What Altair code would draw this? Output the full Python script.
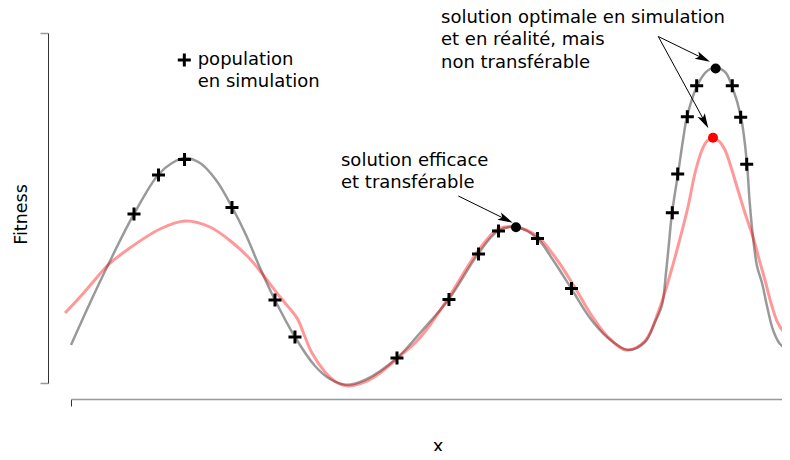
import math
import altair as alt
import pandas as pd

# ---------------- data ----------------
# Fitness landscape in simulation (grey curve)
sim_x = [0, 2.64, 5.15, 8.76, 12.10, 14.05, 15.86, 17.94, 20.17, 22.39, 24.34, 26.29,
         28.37, 31.15, 33.94, 36.02, 38.25, 40.89, 45.34, 48.54, 52.57, 56.61, 59.39,
         61.89, 64.81, 67.04, 69.54, 72.18, 74.55, 77.47, 79.83, 81.22, 82.20, 82.75,
         83.17, 83.59, 84.42, 85.12, 85.67, 87.07, 88.18, 88.87, 89.71, 90.40, 91.10,
         91.93, 93.18, 94.02, 94.37, 94.85, 95.41, 96.11, 96.80, 97.64, 98.61, 100]
sim_y = [10.86, 22.86, 33.71, 48.29, 59.43, 62.86, 64.29, 62.86, 58.0, 50.29, 42.29, 32.86,
         23.71, 13.14, 4.86, 1.14, -0.5, 0.86, 7.14, 14.29, 24.0, 36.86, 43.43,
         44.57, 41.43, 35.14, 27.14, 18.57, 13.14, 9.43, 11.71, 17.43, 22.29, 31.43,
         40.0, 48.57, 59.71, 69.43, 76.0, 84.86, 88.57, 89.71, 90.29, 89.71, 88.57,
         84.86, 76.0, 62.57, 52.29, 41.71, 33.43, 28.57, 22.0, 15.14, 11.14, 9.14]

# Fitness landscape in reality (pink curve)
real_x = [-0.83, 1.25, 3.06, 5.15, 7.79, 12.38, 15.86, 19.33, 22.53, 24.90, 26.29,
          29.07, 31.43, 32.55, 33.52, 35.33, 36.86, 38.53, 40.89, 42.98, 45.76, 48.12,
          49.93, 52.57, 56.61, 59.39, 61.89, 64.81, 67.32, 69.96, 72.18, 74.55, 77.19,
          79.83, 81.92, 83.31, 84.28, 85.81, 86.79, 87.76, 88.46, 89.29, 90.12, 90.96,
          91.79, 92.63, 93.74, 94.85, 95.69, 96.52, 97.36, 98.19, 99.03, 100]
real_y = [20.0, 24.57, 28.86, 33.71, 38.0, 44.0, 46.29, 44.57, 40.0, 35.43, 32.0,
          24.57, 18.57, 13.14, 8.57, 3.14, 0.29, -0.86, 0.29, 2.86, 7.71, 12.0,
          16.57, 24.57, 37.71, 44.0, 44.57, 42.0, 36.0, 27.71, 20.0, 13.43, 9.43,
          12.0, 21.71, 30.86, 38.0, 50.29, 60.0, 66.57, 69.14, 70.0, 69.14, 66.57,
          61.71, 56.0, 48.57, 41.71, 35.43, 29.43, 22.86, 17.71, 14.86, 13.14]

# Population in simulation (+ markers)
pop_x = [8.76, 12.17, 15.79, 22.39, 28.37, 31.15, 45.34, 52.57, 56.68, 59.46, 64.88,
         69.61, 83.63, 84.38, 85.72, 87.02, 91.97, 93.14, 93.98]
pop_y = [48.29, 59.43, 63.86, 50.14, 23.71, 13.14, 7.14, 23.86, 36.86, 43.43, 41.29,
         27.0, 48.66, 59.71, 76.09, 84.94, 84.94, 75.91, 62.49]

# Highlighted solutions
sol_x = [61.89, 89.66, 89.29]
sol_y = [44.49, 89.86, 70.09]
sol_kind = ["simulation", "simulation", "réalité"]

# Legend marker
legend_x = [15.76]
legend_y = [92.29]

# Annotation texts
label_text = ["population", "en simulation",
              "solution efficace", "et transférable",
              "solution optimale en simulation", "et en réalité, mais", "non transférable"]
label_x = [17.62, 17.62, 37.55, 37.55, 51.46, 51.46, 51.46]
label_y = [90.86, 84.57, 62.0, 55.63, 102.77, 96.43, 90.0]

# Arrows (start -> tip)
arrow_x1 = [53.87, 81.68, 81.68]
arrow_y1 = [53.43, 99.0, 99.0]
arrow_x2 = [61.43, 88.87, 88.64]
arrow_y2 = [45.8, 91.8, 72.77]

# ---------------- layout ----------------
PX_PER_X = 7.19          # pixels per x unit
PX_PER_Y = 3.5           # pixels per y unit
W, H = 711, 350
X_MAX = W / PX_PER_X
HEAD = 15
FONT = "DejaVu Sans"

sim_df = pd.DataFrame({"x": sim_x, "y": sim_y})
real_df = pd.DataFrame({"x": real_x, "y": real_y})
pop_df = pd.DataFrame({"x": pop_x, "y": pop_y})
sol_df = pd.DataFrame({"x": sol_x, "y": sol_y, "kind": sol_kind})
leg_df = pd.DataFrame({"x": legend_x, "y": legend_y})
lab_df = pd.DataFrame({"x": label_x, "y": label_y, "text": label_text})

rows = []
for x1, y1, x2, y2 in zip(arrow_x1, arrow_y1, arrow_x2, arrow_y2):
    dx = (x2 - x1) * PX_PER_X
    dy = -(y2 - y1) * PX_PER_Y
    L = math.hypot(dx, dy)
    ux, uy = dx / L, dy / L
    ang = math.degrees(math.atan2(ux, -uy)) % 360
    hx = x2 - (HEAD / 2 * ux) / PX_PER_X
    hy = y2 + (HEAD / 2 * uy) / PX_PER_Y
    rows.append({"x": x1, "y": y1, "x2": hx, "y2": hy, "hx": hx, "hy": hy, "angle": ang})
arr_df = pd.DataFrame(rows)

xscale = alt.Scale(domain=[0, X_MAX], nice=False, zero=False)
yscale = alt.Scale(domain=[0, 100], nice=False, zero=False)

xaxis = alt.Axis(values=[0], labels=False, grid=False, offset=16, tickSize=7,
                 domainColor="#999999", domainWidth=1.5, tickColor="#333333", tickWidth=1,
                 title="x", titleFont=FONT, titleFontSize=18, titleFontWeight="normal",
                 titleColor="black", titleX=366.7, titleY=52, titleBaseline="alphabetic",
                 titleAlign="center", titleAngle=0)
yaxis = alt.Axis(values=[0, 100], labels=False, grid=False, offset=23, tickSize=8,
                 domainColor="#333333", domainWidth=1, tickColor="#999999", tickWidth=1.5,
                 title="Fitness", titleFont=FONT, titleFontSize=17.5, titleFontWeight="normal",
                 titleColor="black", titleX=-21.3, titleY=181, titleBaseline="alphabetic",
                 titleAlign="center", titleAngle=270)


def X(f="x"):
    return alt.X(f"{f}:Q", scale=xscale, axis=xaxis)


def Y(f="y"):
    return alt.Y(f"{f}:Q", scale=yscale, axis=yaxis)


sim_line = alt.Chart(sim_df).mark_line(
    interpolate="catmull-rom", color="black", strokeOpacity=0.4, strokeWidth=2.5
).encode(x=X(), y=Y())

real_line = alt.Chart(real_df).mark_line(
    interpolate="catmull-rom", color="red", strokeOpacity=0.4, strokeWidth=3
).encode(x=X(), y=Y())

plus_shape = "M-1,0L1,0M0,-1L0,1"
pop = alt.Chart(pop_df).mark_point(
    shape=plus_shape, filled=False, size=169, color="black", strokeWidth=3, opacity=1
).encode(x=X(), y=Y())

leg = alt.Chart(leg_df).mark_point(
    shape=plus_shape, filled=False, size=169, color="black", strokeWidth=3, opacity=1
).encode(x=X(), y=Y())

sols = alt.Chart(sol_df).mark_circle(size=100, opacity=1).encode(
    x=X(), y=Y(),
    color=alt.Color("kind:N", scale=alt.Scale(domain=["simulation", "réalité"],
                                              range=["black", "red"]), legend=None),
)

labels = alt.Chart(lab_df).mark_text(
    align="left", baseline="alphabetic", font=FONT, fontSize=18, color="black"
).encode(x=X(), y=Y(), text="text:N")

shafts = alt.Chart(arr_df).mark_rule(color="black", strokeWidth=1).encode(
    x=X(), y=Y(), x2="x2:Q", y2="y2:Q"
)

heads = alt.Chart(arr_df).mark_point(
    shape="M0,-1L0.55,1L0,0.55L-0.55,1Z", filled=True, size=HEAD * HEAD,
    color="black", opacity=1, strokeWidth=0
).encode(x=X("hx"), y=Y("hy"), angle=alt.Angle("angle:Q", scale=None))

chart = alt.layer(
    sim_line, real_line, pop, leg, sols, shafts, heads, labels
).properties(
    width=W, height=H,
    autosize=alt.AutoSizeParams(type="none"),
    padding={"left": 63, "top": 25, "right": 0, "bottom": 68},
).configure_view(stroke=None, strokeWidth=0)

chart.save("out.html", embed_options={"renderer": "svg", "actions": False})
